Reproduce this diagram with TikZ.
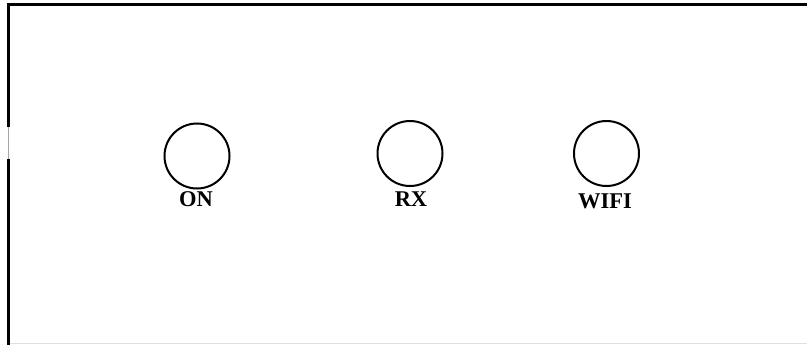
\documentclass[tikz,border=0pt]{standalone}
\usepackage{fontspec}
\setmainfont{Liberation Serif}
\begin{document}
\begin{tikzpicture}[x=1pt,y=1pt,
  frame/.style={line width=2.6pt,black},
  lamp/.style={circle,draw,line width=2pt,minimum size=65pt,inner sep=0pt},
  lamplabel/.style={anchor=base,inner sep=0pt,font=\fontsize{22.5}{24}\selectfont\bfseries}]
\useasboundingbox (0,0) rectangle (807,-345);
% panel outline (open on the right)
\coordinate (tl) at (8.7,-4.7);
\coordinate (tr) at (807,-4.7);
\coordinate (ga) at (8.7,-127);
\coordinate (gb) at (8.7,-159);
\coordinate (bl) at (8.7,-345);
\coordinate (bb) at (10,-343.7);
\coordinate (br) at (807,-343.7);
\draw[frame,line cap=butt] (tr) -- (tl) -- (ga);
\draw[frame,line cap=butt] (gb) -- (bl);
\draw[line width=0.8pt,gray!70] (ga) -- (gb);
\draw[line width=1pt,gray!25] (bb) -- (br);
% indicator lamps
\node[lamp] (on) at (197,-156) {};
\node[lamp] (rx) at (410,-153.5) {};
\node[lamp] (wifi) at (606.5,-153.5) {};
\node[lamplabel] (onl) at (196,-206) {ON};
\node[lamplabel] (rxl) at (411,-206) {RX};
\node[lamplabel] (wifil) at (605,-208) {WIFI};
\end{tikzpicture}
\end{document}
